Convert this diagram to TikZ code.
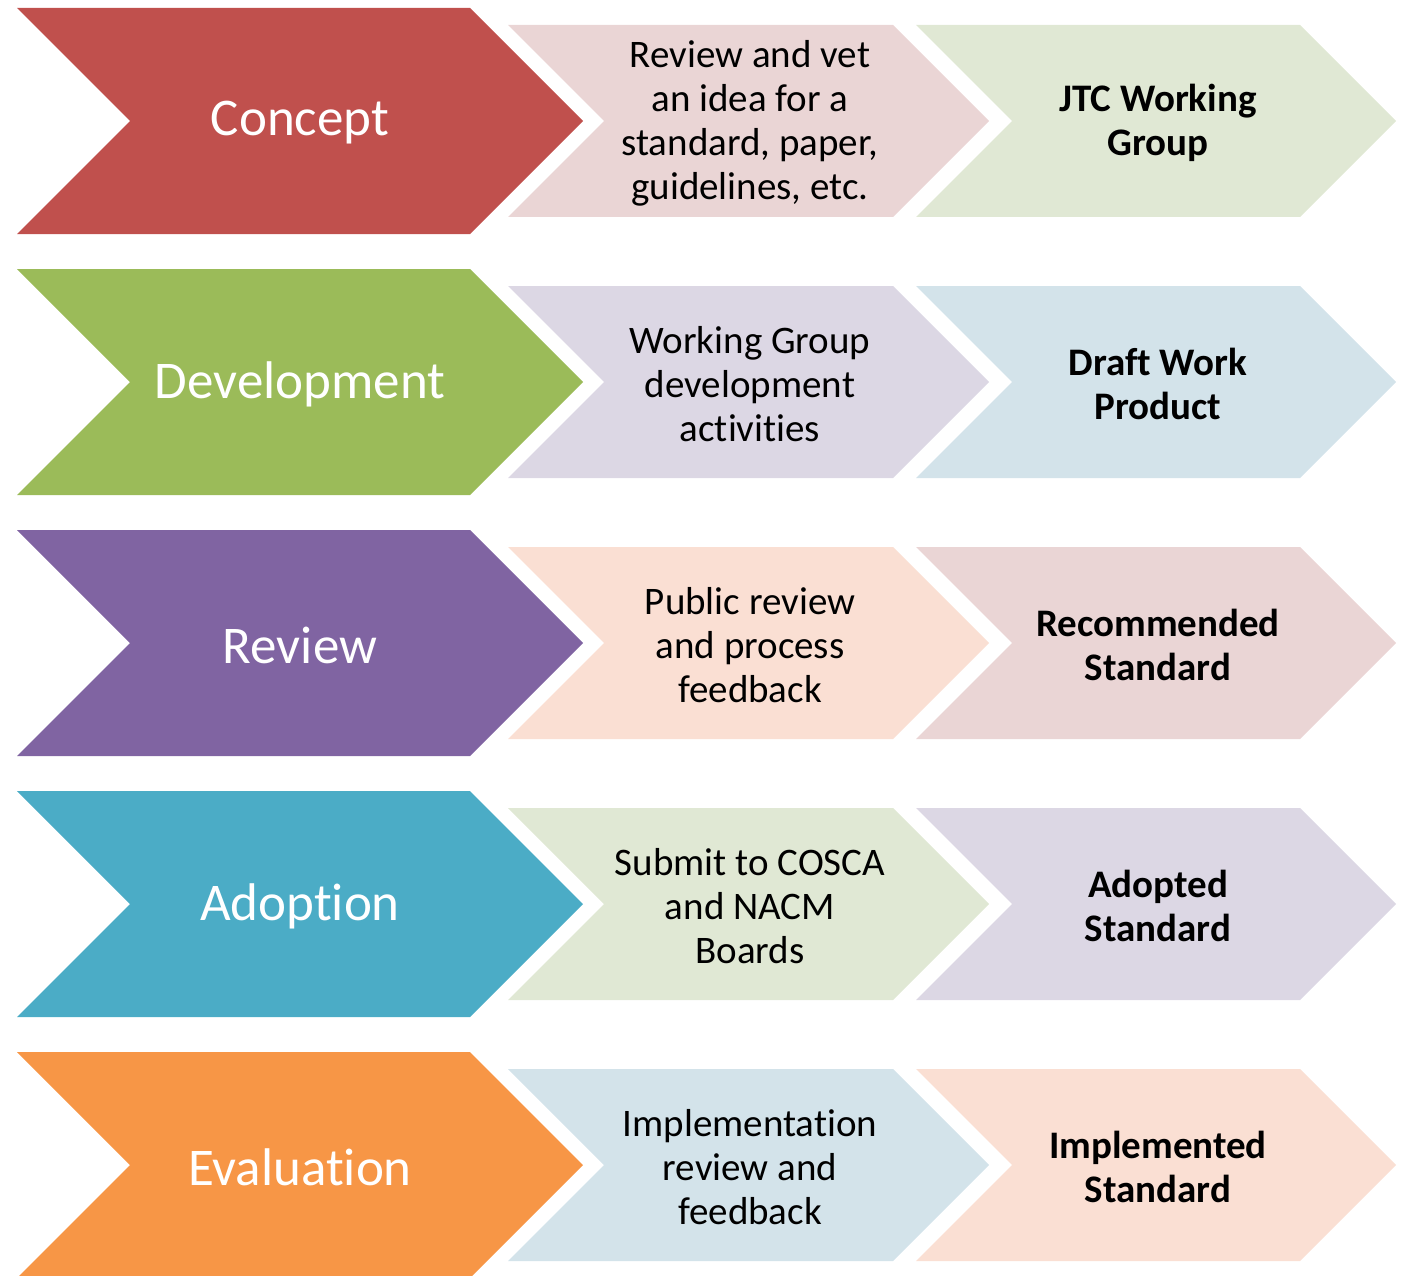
\documentclass[tikz,border=0pt]{standalone}
\usepackage{fontspec}
\setmainfont{Carlito}[Ligatures=NoCommon]
\definecolor{cRed}{HTML}{C0504D}
\definecolor{cGreen}{HTML}{9BBB59}
\definecolor{cPurple}{HTML}{8064A2}
\definecolor{cTeal}{HTML}{4BACC6}
\definecolor{cOrange}{HTML}{F79646}
\definecolor{lRed}{HTML}{EAD5D5}
\definecolor{lGreen}{HTML}{E0E8D4}
\definecolor{lPurple}{HTML}{DCD7E4}
\definecolor{lBlue}{HTML}{D3E3EA}
\definecolor{lOrange}{HTML}{FADFD3}
\newcommand\mychev[5]{%
  \fill[#5] (#1,#2-#3) -- (#1+#4,#2-#3) -- (#1+#4+#3,#2) -- (#1+#4,#2+#3) -- (#1,#2+#3) -- (#1+#3,#2) -- cycle;}
\tikzset{
  bigtxt/.style={text=white, font=\fontsize{53}{60}\selectfont, inner sep=0pt},
  midtxt/.style={text=black, align=center, font=\fontsize{39}{44}\selectfont, inner sep=0pt},
  righttxt/.style={text=black, align=center, font=\fontsize{39}{44}\selectfont\bfseries, inner sep=0pt}
}
\begin{document}
\begin{tikzpicture}[x=1pt,y=-1pt]
\useasboundingbox (0,0) rectangle (1405,1276);
\clip (0,0) rectangle (1405,1276);
% rows
\foreach \ym/\cb/\cm/\cr in {121/cRed/lRed/lGreen, 382/cGreen/lPurple/lBlue, 643/cPurple/lOrange/lRed, 904/cTeal/lGreen/lPurple, 1165/cOrange/lBlue/lOrange}{
  \mychev{17}{\ym}{113}{453}{\cb}
  \mychev{508}{\ym}{96}{385}{\cm}
  \mychev{916}{\ym}{96}{384}{\cr}
}
\node[bigtxt] (b1) at (300,123) {Concept};
\node[bigtxt] (b2) at (300,384) {Development};
\node[bigtxt] (b3) at (300,645) {Review};
\node[bigtxt] (b4) at (300,906) {Adoption};
\node[bigtxt] (b5) at (300,1167) {Evaluation};
\node[midtxt] (m1) at (750,123) {Review and vet\\an idea for a\\standard, paper,\\guidelines, etc.};
\node[midtxt] (m2) at (750,384) {Working Group\\development\\activities};
\node[midtxt] (m3) at (750,645) {Public review\\and process\\feedback};
\node[midtxt] (m4) at (750,906) {Submit to COSCA\\and NACM\\Boards};
\node[midtxt] (m5) at (750,1167) {Implementation\\review and\\feedback};
\node[righttxt] (r1) at (1158,123) {JTC Working\\Group};
\node[righttxt] (r2) at (1158,384) {Draft Work\\Product};
\node[righttxt] (r3) at (1158,645) {Recommended\\Standard};
\node[righttxt] (r4) at (1158,906) {Adopted\\Standard};
\node[righttxt] (r5) at (1158,1167) {Implemented\\Standard};
\end{tikzpicture}
\end{document}
